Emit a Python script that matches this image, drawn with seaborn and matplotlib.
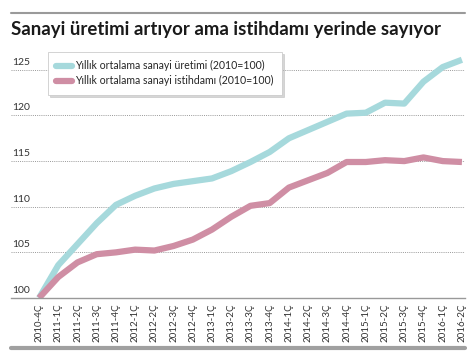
import pandas as pd
import seaborn as sns
import matplotlib.pyplot as plt
from matplotlib.lines import Line2D

# quarters on the x axis
quarters = ["2010-4Ç", "2011-1Ç", "2011-2Ç", "2011-3Ç", "2011-4Ç",
            "2012-1Ç", "2012-2Ç", "2012-3Ç", "2012-4Ç",
            "2013-1Ç", "2013-2Ç", "2013-3Ç", "2013-4Ç",
            "2014-1Ç", "2014-2Ç", "2014-3Ç", "2014-4Ç",
            "2015-1Ç", "2015-2Ç", "2015-3Ç", "2015-4Ç",
            "2016-1Ç", "2016-2Ç"]
# yearly average industrial production (2010=100)
uretim = [100.0, 103.6, 105.9, 108.2, 110.2, 111.2, 112.0, 112.5, 112.8,
          113.1, 113.9, 114.9, 116.0, 117.5, 118.4, 119.3, 120.2,
          120.3, 121.4, 121.3, 123.7, 125.3, 126.1]
# yearly average industrial employment (2010=100)
istihdam = [100.0, 102.3, 103.9, 104.8, 105.0, 105.3, 105.2, 105.7, 106.4,
            107.5, 108.9, 110.1, 110.4, 112.1, 112.9, 113.7, 114.9,
            114.9, 115.1, 115.0, 115.4, 115.0, 114.9]
series_names = ["Yıllık ortalama sanayi üretimi (2010=100)",
                "Yıllık ortalama sanayi istihdamı (2010=100)"]
colors = ["#a6d9dc", "#cf8ea4"]
yticks = [100, 105, 110, 115, 120, 125]

df = pd.DataFrame({
    "i": list(range(len(quarters))) * 2,
    "deger": uretim + istihdam,
    "seri": [series_names[0]] * len(quarters) + [series_names[1]] * len(quarters),
})

sns.set_style("white")
plt.rcParams["font.family"] = ["Lato", "DejaVu Sans"]

fig = plt.figure(figsize=(4.73, 3.56), dpi=100)
ax = fig.add_axes([11 / 473, 1 - 298 / 356, 454 / 473, 251 / 356])

sns.lineplot(data=df, x="i", y="deger", hue="seri", palette=colors,
             linewidth=4.5, ax=ax, legend=False, solid_capstyle="butt")

ax.set_xlim(-1.46, 22.16)
ax.set_ylim(100, 127.5)
ax.set_xlabel("")
ax.set_ylabel("")
ax.set_xticks(range(len(quarters)))
ax.set_xticklabels(quarters, rotation=90, fontsize=7, color="#333333")
ax.tick_params(axis="x", length=0, pad=4)
ax.set_yticks([])
for s in ["top", "right", "left"]:
    ax.spines[s].set_visible(False)
ax.spines["bottom"].set_color("#999999")
ax.spines["bottom"].set_linewidth(1.0)

# dotted grid with labels sitting above each line
for v in yticks:
    if v > 100:
        ax.axhline(v, color="#999999", linestyle=(0, (1, 1.2)), linewidth=0.7, zorder=0)
    ax.text(0.003, v + 0.35, str(v), transform=ax.get_yaxis_transform(),
            fontsize=7.5, color="#333333", ha="left", va="bottom")

handles = [Line2D([0], [0], color=c, linewidth=4.5) for c in colors]
leg = ax.legend(handles, series_names, loc="upper left",
                bbox_to_anchor=(48 / 473, 1 - 52 / 356),
                bbox_transform=fig.transFigure, borderaxespad=0,
                fontsize=7.6, handlelength=1.5, handletextpad=0.3,
                frameon=True, fancybox=False,
                shadow={"color": "#bbbbbb", "alpha": 0.6, "ox": 1.5, "oy": -1.5},
                labelspacing=0.35, borderpad=0.8)
leg.get_frame().set_edgecolor("#cccccc")
leg.get_frame().set_linewidth(0.6)

# title and decorative rules
fig.text(11 / 473, 1 - 30 / 356, "Sanayi üretimi artıyor ama istihdamı yerinde sayıyor",
         fontsize=13.4, fontweight="bold", color="#1a1a1a", ha="left", va="center")
fig.add_artist(Line2D([11 / 473, 465 / 473], [1 - 13 / 356] * 2,
                      color="#9a9a9a", linewidth=1.5))
fig.add_artist(Line2D([11 / 473, 465 / 473], [1 - 348 / 356] * 2,
                      color="#a0a0a0", linewidth=3))

fig.savefig("out.png", dpi=100)
